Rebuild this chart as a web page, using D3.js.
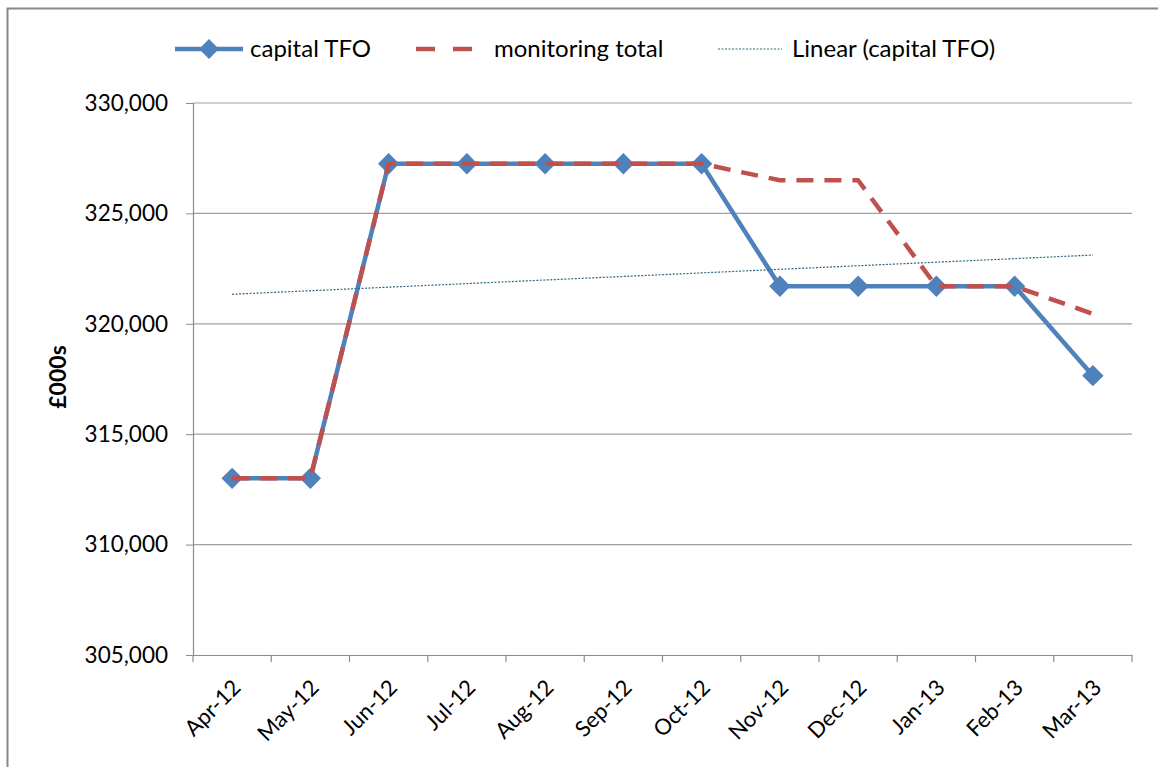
<!DOCTYPE html>
<html><head><meta charset="utf-8">
<script src="https://cdn.jsdelivr.net/npm/d3@7"></script>
<style>body{margin:0;background:#fff}svg{display:block}text{font-family:Lato,"Open Sans",sans-serif;fill:#000}</style>
</head><body><svg id="c" width="1158" height="767"></svg>
<script>
const categories = ["Apr-12","May-12","Jun-12","Jul-12","Aug-12","Sep-12","Oct-12","Nov-12","Dec-12","Jan-13","Feb-13","Mar-13"];
const capitalTFO = [313000,313000,327250,327250,327250,327250,327250,321700,321700,321700,321700,317650];
const monitoringTotal = [313000,313000,327250,327250,327250,327250,327250,326500,326500,321700,321700,320450];
const yTicks = [305000,310000,315000,320000,325000,330000];
const seriesNames = ["capital TFO","monitoring total","Linear (capital TFO)"];
const yTitle = "£000s";

const svg = d3.select("#c");
const L=193,R=1132,T=103,B=655;
svg.append("rect").attr("x",7.5).attr("y",8.5).attr("width",1170).attr("height",800).attr("fill","#fff").attr("stroke","#888").attr("stroke-width",2);

const x = d3.scaleBand().domain(categories).range([L,R]);
const y = d3.scaleLinear().domain([305000,330000]).range([B,T]);
const cx = d => x(d)+x.bandwidth()/2;

// gridlines
svg.append("g").selectAll("line").data(yTicks.slice(1)).join("line")
 .attr("x1",L).attr("x2",R).attr("y1",d=>y(d)).attr("y2",d=>y(d)).attr("stroke","#a0a0a0").attr("stroke-width",1.2);

// y axis
const ya = svg.append("g").attr("transform",`translate(${L},0)`).call(d3.axisLeft(y).tickValues(yTicks).tickFormat(d3.format(",")).tickSize(7).tickPadding(18));
ya.select(".domain").attr("stroke","#8c8c8c").attr("stroke-width",1.2);
ya.selectAll(".tick line").attr("stroke","#8c8c8c");
ya.selectAll("text").attr("font-size",22.5).attr("font-family","Lato").attr("fill","#222");

// x axis
const xa = svg.append("g").attr("transform",`translate(0,${B})`).call(d3.axisBottom(x).tickSize(0).tickFormat(d=>d));
xa.select(".domain").attr("stroke","#8c8c8c").attr("stroke-width",1.2);
xa.selectAll(".tick line").remove();
svg.append("g").selectAll("line").data(categories.map(c=>x(c)).concat([R])).join("line")
 .attr("x1",d=>d).attr("x2",d=>d).attr("y1",B).attr("y2",B+7).attr("stroke","#8c8c8c").attr("stroke-width",1.2);
xa.selectAll("text").attr("font-size",22).attr("font-family","Lato").attr("fill","#222")
 .attr("text-anchor","end").attr("dy",0).attr("y",0)
 .attr("transform","translate(10,34) rotate(-45)");

// y title
svg.append("text").attr("transform",`translate(66,${(T+B)/2 - 2}) rotate(-90)`).attr("text-anchor","middle")
 .attr("font-size",23).attr("font-weight","bold").text(yTitle);

// trend line (least squares on capitalTFO)
const n=capitalTFO.length, mx=(n-1)/2, my=d3.mean(capitalTFO);
let sxy=0,sxx=0; capitalTFO.forEach((v,i)=>{sxy+=(i-mx)*(v-my);sxx+=(i-mx)**2;});
const slope=sxy/sxx, icpt=my-slope*mx;
const trend = categories.map((c,i)=>icpt+slope*i);

const line = d3.line().x((d,i)=>cx(categories[i])).y(d=>y(d));
svg.append("path").attr("d",line(capitalTFO)).attr("fill","none").attr("stroke","#4F81BD").attr("stroke-width",4.5).attr("stroke-linejoin","round");
svg.selectAll(".mk").data(capitalTFO).join("path").attr("class","mk")
 .attr("d",d3.symbol(d3.symbolDiamond2,290)).attr("transform",(d,i)=>`translate(${cx(categories[i])},${y(d)})`).attr("fill","#4F81BD");
svg.append("path").attr("d",line(monitoringTotal)).attr("fill","none").attr("stroke","#C0504D").attr("stroke-width",4.5).attr("stroke-dasharray","17,11").attr("stroke-linejoin","round");
svg.append("path").attr("d",line(trend)).attr("fill","none").attr("stroke","#2D6A7A").attr("stroke-width",1.2).attr("stroke-dasharray","2,1.5");

// legend
const lg = svg.append("g").attr("font-size",24);
const ly=49;
lg.append("line").attr("x1",175).attr("x2",243).attr("y1",ly).attr("y2",ly).attr("stroke","#4F81BD").attr("stroke-width",4.5);
lg.append("path").attr("d",d3.symbol(d3.symbolDiamond2,250)).attr("transform",`translate(209,${ly})`).attr("fill","#4F81BD");
lg.append("text").attr("x",250).attr("y",ly+8).text(seriesNames[0]);
lg.append("line").attr("x1",416).attr("x2",472).attr("y1",ly).attr("y2",ly).attr("stroke","#C0504D").attr("stroke-width",4.5).attr("stroke-dasharray","19,18");
lg.append("text").attr("x",494).attr("y",ly+8).text(seriesNames[1]);
lg.append("line").attr("x1",718).attr("x2",782).attr("y1",ly).attr("y2",ly).attr("stroke","#2D6A7A").attr("stroke-width",1.2).attr("stroke-dasharray","2,1.5");
lg.append("text").attr("x",792).attr("y",ly+8).text(seriesNames[2]);
</script></body></html>
